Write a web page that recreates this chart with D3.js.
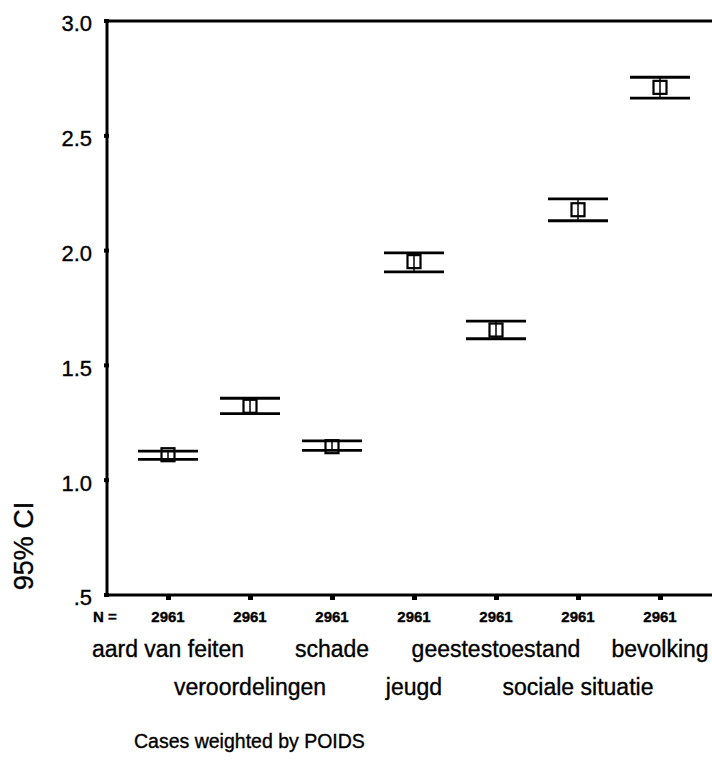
<!DOCTYPE html>
<html>
<head>
<meta charset="utf-8">
<script src="https://cdn.jsdelivr.net/npm/d3@7"></script>
<style>
  body { margin: 0; background: #fff; }
  svg { display: block; font-family: "Liberation Sans", Arial, sans-serif; }
  svg text { fill: #000; stroke: #000; stroke-width: 0.35; }
  .frame { stroke: #000; stroke-width: 3; }
  .cap { stroke: #000; stroke-width: 2.8; }
  .stem { stroke: #000; stroke-width: 1.5; }
  .meanBox { fill: none; stroke: #000; stroke-width: 2.2; }
</style>
</head>
<body>
<div id="chart"></div>
<script>
// categories in plot order, and which label row they go on
var categories = ["aard van feiten", "veroordelingen", "schade", "jeugd",
                  "geestestoestand", "sociale situatie", "bevolking"];
var labelRow = [0, 1, 0, 1, 0, 1, 0];

// 95% confidence interval: mean, lower and upper bound
var means = [1.111, 1.322, 1.146, 1.952, 1.654, 2.178, 2.711];
var lower = [1.091, 1.290, 1.130, 1.907, 1.616, 2.130, 2.664];
var upper = [1.127, 1.357, 1.171, 1.990, 1.693, 2.225, 2.755];
var counts = [2961, 2961, 2961, 2961, 2961, 2961, 2961];

var yTicks = [0.5, 1.0, 1.5, 2.0, 2.5, 3.0];
var yTickLabels = [".5", "1.0", "1.5", "2.0", "2.5", "3.0"];

function init() {
    var w = 712;
    var h = 765;

    // plot box edges
    var left = 107;
    var top = 21;
    var bottom = 595;
    var right = 745;

    var svg = d3.select("#chart")
                .append("svg")
                .attr("width", w)
                .attr("height", h);

    var xScale = d3.scalePoint()
                   .domain(categories)
                   .range([168, 660]);

    var yScale = d3.scaleLinear()
                   .domain([0.5, 3.0])
                   .range([bottom, top]);

    // frame: left, top, bottom (right side runs off the page)
    svg.append("line").attr("class", "frame")
        .attr("x1", left).attr("y1", yScale(3.0) - 1.5)
        .attr("x2", left).attr("y2", yScale(0.5) + 1.5);
    svg.append("line").attr("class", "frame")
        .attr("x1", left).attr("y1", yScale(3.0))
        .attr("x2", right).attr("y2", yScale(3.0));
    svg.append("line").attr("class", "frame")
        .attr("x1", left).attr("y1", yScale(0.5))
        .attr("x2", right).attr("y2", yScale(0.5));

    // y axis labels, ticks drawn as little squares
    var yAxis = d3.axisLeft(yScale)
                  .tickValues(yTicks)
                  .tickSize(0)
                  .tickPadding(15)
                  .tickFormat(function(d, i) { return yTickLabels[i]; });

    var gy = svg.append("g")
                .attr("transform", "translate(" + left + ",0)")
                .call(yAxis);
    gy.select(".domain").remove();
    gy.selectAll("text")
        .attr("font-size", 22)
        .attr("font-family", "Liberation Sans, Arial, sans-serif")
        .attr("dy", "0.45em");

    svg.selectAll(".ytick")
        .data(yTicks)
        .enter()
        .append("rect")
        .attr("x", left - 3)
        .attr("y", function(d) { return yScale(d) - 2; })
        .attr("width", 5)
        .attr("height", 4)
        .attr("fill", "#000");

    // x ticks under the bottom line
    svg.selectAll(".xtick")
        .data(categories)
        .enter()
        .append("rect")
        .attr("x", function(d) { return xScale(d) - 2; })
        .attr("y", yScale(0.5) + 1)
        .attr("width", 5)
        .attr("height", 4)
        .attr("fill", "#000");

    // error bars
    var bars = svg.selectAll(".bar")
                  .data(categories)
                  .enter()
                  .append("g");

    bars.append("line").attr("class", "stem")
        .attr("x1", function(d) { return xScale(d); })
        .attr("x2", function(d) { return xScale(d); })
        .attr("y1", function(d, i) { return yScale(upper[i]); })
        .attr("y2", function(d, i) { return yScale(lower[i]); });

    bars.append("line").attr("class", "cap")
        .attr("x1", function(d) { return xScale(d) - 30; })
        .attr("x2", function(d) { return xScale(d) + 30; })
        .attr("y1", function(d, i) { return yScale(upper[i]); })
        .attr("y2", function(d, i) { return yScale(upper[i]); });

    bars.append("line").attr("class", "cap")
        .attr("x1", function(d) { return xScale(d) - 30; })
        .attr("x2", function(d) { return xScale(d) + 30; })
        .attr("y1", function(d, i) { return yScale(lower[i]); })
        .attr("y2", function(d, i) { return yScale(lower[i]); });

    bars.append("rect").attr("class", "meanBox")
        .attr("x", function(d) { return xScale(d) - 6.5; })
        .attr("y", function(d, i) { return yScale(means[i]) - 6.5; })
        .attr("width", 13)
        .attr("height", 13);

    // N = counts row
    svg.append("text")
        .attr("x", 93)
        .attr("y", 622)
        .attr("font-size", 15)
        .attr("font-weight", "bold")
        .text("N =");

    svg.selectAll(".count")
        .data(categories)
        .enter()
        .append("text")
        .attr("x", function(d) { return xScale(d); })
        .attr("y", 622)
        .attr("text-anchor", "middle")
        .attr("font-size", 15)
        .attr("font-weight", "bold")
        .text(function(d, i) { return counts[i]; });

    // category names, staggered over two rows
    svg.selectAll(".catLabel")
        .data(categories)
        .enter()
        .append("text")
        .attr("x", function(d) { return xScale(d); })
        .attr("y", function(d, i) { return labelRow[i] === 0 ? 657 : 695; })
        .attr("text-anchor", "middle")
        .attr("font-size", 23)
        .text(function(d) { return d; });

    // y axis title
    svg.append("text")
        .attr("transform", "translate(33," + 546 + ") rotate(-90)")
        .attr("text-anchor", "middle")
        .attr("font-size", 27)
        .text("95% CI");

    svg.append("text")
        .attr("x", 134)
        .attr("y", 748)
        .attr("font-size", 19.5)
        .text("Cases weighted by POIDS");
}

window.onload = init;
</script>
</body>
</html>
